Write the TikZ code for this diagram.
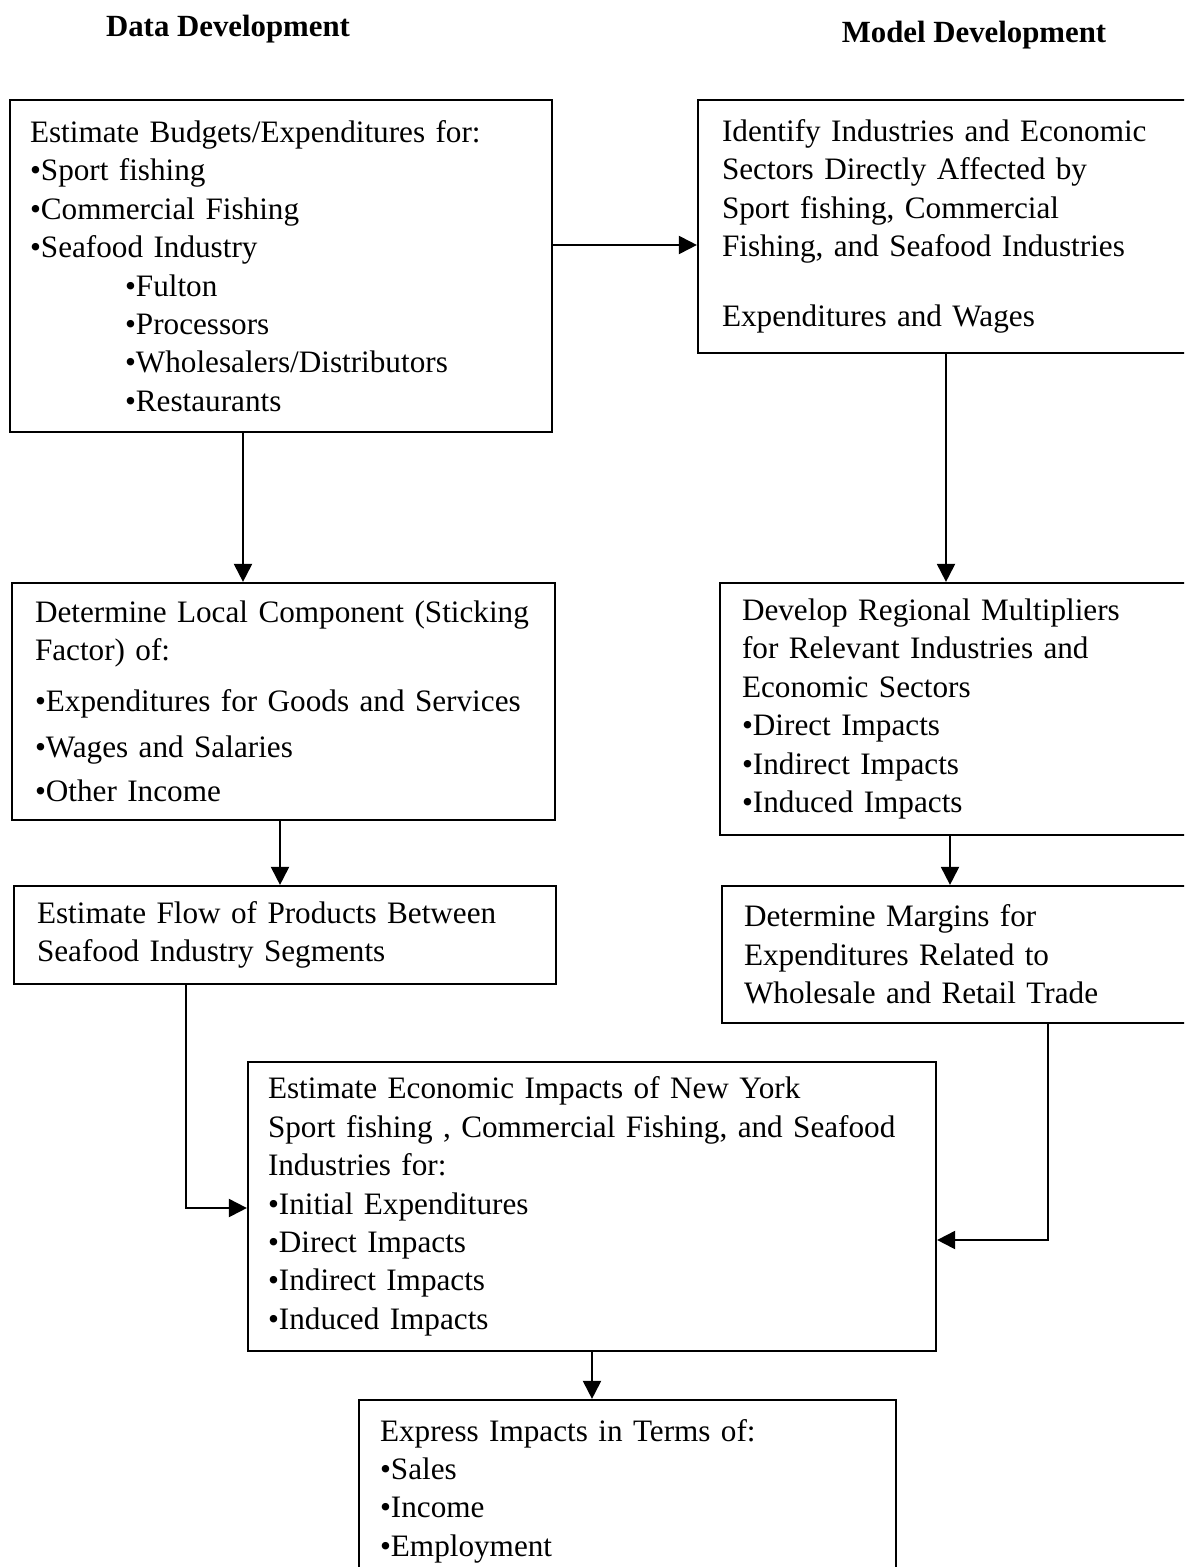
\documentclass[tikz,border=0pt]{standalone}
\usepackage{fontspec}
\setmainfont{Liberation Serif}
\usetikzlibrary{arrows.meta}
\begin{document}
\begin{tikzpicture}[x=0.5pt,y=-0.5pt,
  box/.style={draw,line width=1.1pt,align=left,inner ysep=0pt,font=\fontsize{15.6}{19.2}\selectfont},
  arr/.style={line width=1pt,-{Triangle[length=9pt,width=9pt]}},
  title/.style={font=\fontsize{15.4}{18}\selectfont\bfseries}]
\useasboundingbox (0,0) rectangle (1184,1567);
\clip (0,0) rectangle (1184,1567);
\fill[white] (0,0) rectangle (1184,1567);

\node[title] (t1) at (228,29) {Data Development};
\node[title] (t2) at (974,35) {Model Development};

\node[box,text width=251pt,inner xsep=10pt,minimum height=166pt] (b1) at (281,266)
 {Estimate Budgets/Expenditures for:\\
  •Sport fishing\\
  •Commercial Fishing\\
  •Seafood Industry\\
  \hspace*{47.5pt}•Fulton\\
  \hspace*{47.5pt}•Processors\\
  \hspace*{47.5pt}•Wholesalers/Distributors\\
  \hspace*{47.5pt}•Restaurants};

\node[box,text width=227pt,inner xsep=12pt,minimum height=126.5pt] (b2) at (949,226.5)
 {Identify Industries and Economic\\
  Sectors Directly Affected by\\
  Sport fishing, Commercial\\
  Fishing, and Seafood Industries\\[15.8pt]
  Expenditures and Wages};

\node[box,text width=248.5pt,inner xsep=11.5pt,minimum height=118.5pt] (b3) at (283.5,701.5)
 {Determine Local Component (Sticking\\
  Factor) of:\\[6pt]
  •Expenditures for Goods and Services\\[4pt]
  •Wages and Salaries\\[3pt]
  •Other Income};

\node[box,text width=218pt,inner xsep=11pt,minimum height=126pt] (b4) at (960,709)
 {Develop Regional Multipliers\\
  for Relevant Industries and\\
  Economic Sectors\\
  •Direct Impacts\\
  •Indirect Impacts\\
  •Induced Impacts};

\node[box,text width=248pt,inner xsep=11.5pt,minimum height=49pt] (b5) at (285,935)
 {Estimate Flow of Products Between\\
  Seafood Industry Segments};

\node[box,text width=217pt,inner xsep=11pt,minimum height=68.5pt] (b6) at (961,954.5)
 {Determine Margins for\\
  Expenditures Related to\\
  Wholesale and Retail Trade};

\node[box,text width=324pt,inner xsep=10pt,minimum height=144.5pt] (b7) at (592,1206.5)
 {Estimate Economic Impacts of New York\\
  Sport fishing , Commercial Fishing, and Seafood\\
  Industries for:\\
  •Initial Expenditures\\
  •Direct Impacts\\
  •Indirect Impacts\\
  •Induced Impacts};

\node[box,text width=247.5pt,inner xsep=10.5pt,minimum height=91pt] (b8) at (627.5,1491)
 {Express Impacts in Terms of:\\
  •Sales\\
  •Income\\
  •Employment};

\coordinate (q12) at (0,245);
\coordinate (x13) at (243,0);
\coordinate (x24) at (946,0);
\coordinate (x35) at (280,0);
\coordinate (x46) at (950,0);
\coordinate (x57) at (186,1208);
\coordinate (x67) at (1048,1240);
\coordinate (x78) at (592,0);

\draw[arr] (b1.east |- q12) -- (b2.west |- q12);
\draw[arr] (b1.south -| x13) -- (b3.north -| x13);
\draw[arr] (b2.south -| x24) -- (b4.north -| x24);
\draw[arr] (b3.south -| x35) -- (b5.north -| x35);
\draw[arr] (b4.south -| x46) -- (b6.north -| x46);
\draw[arr] (b5.south -| x57) -- (x57) -- (b7.west |- x57);
\draw[arr] (b6.south -| x67) -- (x67) -- (b7.east |- x67);
\draw[arr] (b7.south -| x78) -- (b8.north -| x78);
\end{tikzpicture}
\end{document}
